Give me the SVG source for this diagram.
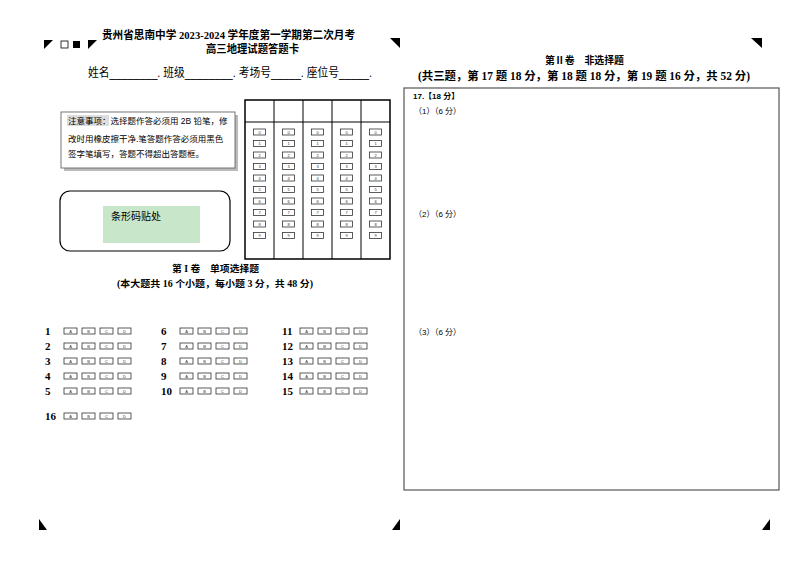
<svg xmlns="http://www.w3.org/2000/svg" width="800" height="566" viewBox="0 0 800 566">
<style>
text{font-family:"Liberation Serif","Noto Sans CJK SC",serif;fill:#000}
.b{font-weight:bold}
.s{font-family:"Liberation Sans","Noto Sans CJK SC",sans-serif}
.bub{fill:#fff;stroke:#333;stroke-width:0.8}
.bt{font-family:"Liberation Sans",sans-serif;font-size:4px;text-anchor:middle;fill:#333}
.ln{stroke:#000;fill:none}
</style>
<rect width="800" height="566" fill="#fff"/>
<g id="marks">
<polygon points="44,40 53,40 44,49"/>
<rect x="61" y="41" width="7" height="7" fill="#fff" stroke="#000" stroke-width="0.8"/>
<rect x="73" y="41" width="7" height="7"/>
<polygon points="88,40 97,40 88,49"/>
<polygon points="390,38 400,38 400,48"/>
<polygon points="751,38 762,38 762,48"/>
<polygon points="39,519 39,530 47,530"/>
<polygon points="400,519 400,530 392,530"/>
<polygon points="770,519 770,530 762,530"/>
</g>
<g id="header">
<text x="102" y="39" class="b" font-size="11" textLength="253" lengthAdjust="spacingAndGlyphs">贵州省思南中学 2023-2024 学年度第一学期第二次月考</text>
<text x="206" y="53" class="b" font-size="11" textLength="93" lengthAdjust="spacingAndGlyphs">高三地理试题答题卡</text>
<text x="88" y="77" class="s" font-size="12" textLength="284" lengthAdjust="spacingAndGlyphs">姓名________. 班级________. 考场号_____. 座位号_____.</text>
</g>
<g id="notice">
<rect x="64" y="115" width="174" height="56" fill="#bbb"/>
<rect x="61" y="112" width="174" height="56" fill="#fff" stroke="#555" stroke-width="0.8"/>
<rect x="67" y="115" width="42" height="11" fill="#ddd"/>
<text x="68" y="124" class="s" font-size="8.5">注意事项：选择题作答必须用 2B 铅笔，修</text>
<text x="68" y="142" class="s" font-size="8.5">改时用橡皮擦干净.笔答题作答必须用黑色</text>
<text x="68" y="157" class="s" font-size="8.5">签字笔填写，答题不得超出答题框。</text>
</g>
<g id="grid">
<rect x="245" y="100" width="145" height="159" class="ln" stroke-width="1.5"/>
<line x1="245" y1="122" x2="390" y2="122" class="ln"/>
<line x1="274" y1="100" x2="274" y2="259" class="ln"/>
<line x1="303" y1="100" x2="303" y2="259" class="ln"/>
<line x1="332" y1="100" x2="332" y2="259" class="ln"/>
<line x1="361" y1="100" x2="361" y2="259" class="ln"/>
</g>
<g id="barcode">
<rect x="60" y="191" width="170" height="60" rx="10" class="ln" stroke-width="1.2"/>
<rect x="103" y="206" width="97" height="37" fill="#c8e6c9"/>
<text x="111" y="220" font-size="10" fill="#555">条形码贴处</text>
</g>
<g id="sec1">
<text x="172" y="272" class="b" font-size="9.5" textLength="87" lengthAdjust="spacingAndGlyphs">第 I 卷　单项选择题</text>
<text x="117" y="287" class="b" font-size="9.5" textLength="196" lengthAdjust="spacingAndGlyphs">(本大题共 16 个小题，每小题 3 分，共 48 分)</text>
</g>
<g id="sec2">
<text x="545" y="64" class="b" font-size="10" textLength="79" lengthAdjust="spacingAndGlyphs">第Ⅱ卷　非选择题</text>
<text x="418" y="80" class="b" font-size="11.5" textLength="332" lengthAdjust="spacingAndGlyphs">(共三题，第 17 题 18 分，第 18 题 18 分，第 19 题 16 分，共 52 分)</text>
<rect x="404" y="88" width="375" height="402" fill="none" stroke="#555" stroke-width="1.2"/>
<text x="413" y="99" class="s b" font-size="8">17.【18 分】</text>
<text x="414" y="114" class="s" font-size="8">（1）（6 分）</text>
<text x="414" y="217" class="s" font-size="8">（2）（6 分）</text>
<text x="414" y="335" class="s" font-size="8">（3）（6 分）</text>
</g>
<g id="bubbles">
<defs>
<g id="abcd">
<rect x="0" y="-3" width="13" height="6" class="bub"/><text x="6.5" y="1.5" class="bt">A</text>
<rect x="18" y="-3" width="13" height="6" class="bub"/><text x="24.5" y="1.5" class="bt">B</text>
<rect x="36" y="-3" width="13" height="6" class="bub"/><text x="42.5" y="1.5" class="bt">C</text>
<rect x="54" y="-3" width="13" height="6" class="bub"/><text x="60.5" y="1.5" class="bt">D</text>
</g>
<g id="col">
<rect x="-6" y="-3" width="12" height="6" class="bub"/><text y="1.5" class="bt">0</text>
<rect x="-6" y="8.5" width="12" height="6" class="bub"/><text y="13" class="bt">1</text>
<rect x="-6" y="20" width="12" height="6" class="bub"/><text y="24.5" class="bt">2</text>
<rect x="-6" y="31.5" width="12" height="6" class="bub"/><text y="36" class="bt">3</text>
<rect x="-6" y="43" width="12" height="6" class="bub"/><text y="47.5" class="bt">4</text>
<rect x="-6" y="54.5" width="12" height="6" class="bub"/><text y="59" class="bt">5</text>
<rect x="-6" y="66" width="12" height="6" class="bub"/><text y="70.5" class="bt">6</text>
<rect x="-6" y="77.5" width="12" height="6" class="bub"/><text y="82" class="bt">7</text>
<rect x="-6" y="89" width="12" height="6" class="bub"/><text y="93.5" class="bt">8</text>
<rect x="-6" y="100.5" width="12" height="6" class="bub"/><text y="105" class="bt">9</text>
</g>
</defs>
<use href="#col" x="259.5" y="132"/>
<use href="#col" x="288.5" y="132"/>
<use href="#col" x="317.5" y="132"/>
<use href="#col" x="346.5" y="132"/>
<use href="#col" x="375.5" y="132"/>
<g font-size="11">
<text x="45" y="335" class="b">1</text><text x="45" y="350" class="b">2</text><text x="45" y="365" class="b">3</text><text x="45" y="380" class="b">4</text><text x="45" y="395" class="b">5</text>
<text x="161" y="335" class="b">6</text><text x="161" y="350" class="b">7</text><text x="161" y="365" class="b">8</text><text x="161" y="380" class="b">9</text><text x="161" y="395" class="b">10</text>
<text x="282" y="335" class="b">11</text><text x="282" y="350" class="b">12</text><text x="282" y="365" class="b">13</text><text x="282" y="380" class="b">14</text><text x="282" y="395" class="b">15</text>
<text x="45" y="420" class="b">16</text>
</g>
<use href="#abcd" x="64" y="331"/><use href="#abcd" x="64" y="346"/><use href="#abcd" x="64" y="361"/><use href="#abcd" x="64" y="376"/><use href="#abcd" x="64" y="391"/>
<use href="#abcd" x="180" y="331"/><use href="#abcd" x="180" y="346"/><use href="#abcd" x="180" y="361"/><use href="#abcd" x="180" y="376"/><use href="#abcd" x="180" y="391"/>
<use href="#abcd" x="300" y="331"/><use href="#abcd" x="300" y="346"/><use href="#abcd" x="300" y="361"/><use href="#abcd" x="300" y="376"/><use href="#abcd" x="300" y="391"/>
<use href="#abcd" x="64" y="416"/>
</g>
</svg>
